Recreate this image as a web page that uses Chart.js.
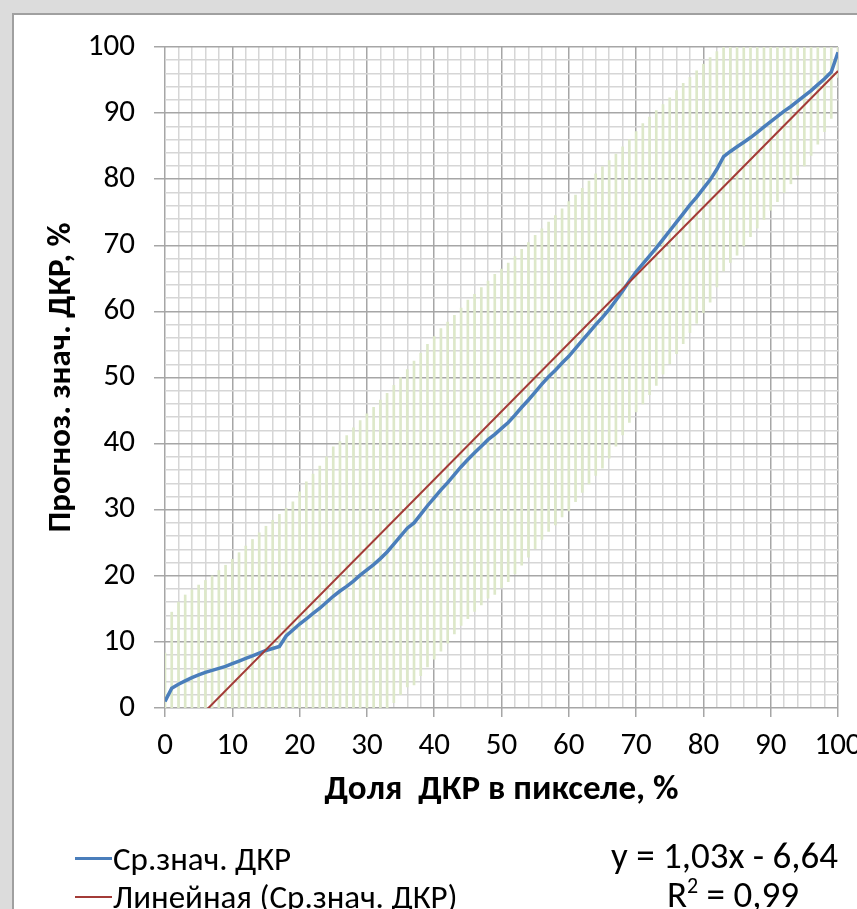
<!DOCTYPE html>
<html><head><meta charset="utf-8">
<script src="https://cdn.jsdelivr.net/npm/chart.js@4.4.1/dist/chart.umd.min.js"></script>
<style>
html,body{margin:0;padding:0;width:857px;height:909px;overflow:hidden;background:#dcdcdc;}
#frame{position:absolute;left:12px;top:13px;width:900px;height:950px;background:#fff;border-left:2px solid #a0a0a0;border-top:2px solid #a0a0a0;}
#c{position:absolute;left:0;top:0;}
.txt{position:absolute;font-family:Carlito,'Open Sans',sans-serif;font-size:33px;color:#000;white-space:nowrap;line-height:1;}
.eqt{font-size:37px;}
.ln{position:absolute;height:3px;width:37px;}
</style></head>
<body>
<div id="frame"></div>
<canvas id="c" width="857" height="909"></canvas>
<div class="ln" style="left:75px;top:857px;background:#4a7ebb"></div>
<div class="txt" id="leg1" style="left:113px;top:843px">Ср.знач. ДКР</div>
<div class="ln" style="left:75px;top:896px;background:#a33b37;height:2px"></div>
<div class="txt" id="leg2" style="left:113px;top:881px">Линейная (Ср.знач. ДКР)</div>
<div class="txt eqt" id="eq" style="right:19px;top:837px"></div>
<div class="txt eqt" id="r2" style="left:667px;top:876px"></div>
<script>
const xPct = [0,1,2,3,4,5,6,7,8,9,10,11,12,13,14,15,16,17,18,19,20,21,22,23,24,25,26,27,28,29,30,31,32,33,34,35,36,37,38,39,40,41,42,43,44,45,46,47,48,49,50,51,52,53,54,55,56,57,58,59,60,61,62,63,64,65,66,67,68,69,70,71,72,73,74,75,76,77,78,79,80,81,82,83,84,85,86,87,88,89,90,91,92,93,94,95,96,97,98,99,100];
const meanDKR = [1.0,3.0,3.6,4.1,4.6,5.0,5.4,5.7,6.0,6.3,6.7,7.1,7.5,7.9,8.3,8.7,9.0,9.3,10.9,11.8,12.7,13.5,14.3,15.1,16.0,16.9,17.7,18.4,19.2,20.1,20.9,21.7,22.6,23.6,24.8,26.0,27.2,28.0,29.3,30.6,31.8,33.0,34.1,35.3,36.5,37.6,38.6,39.6,40.6,41.4,42.3,43.2,44.3,45.5,46.6,47.8,49.0,50.1,51.1,52.2,53.2,54.4,55.6,56.8,58.0,59.1,60.3,61.7,63.1,64.6,66.0,67.2,68.4,69.6,70.9,72.2,73.5,74.8,76.1,77.3,78.6,79.9,81.5,83.4,84.2,84.9,85.6,86.3,87.1,87.9,88.7,89.5,90.3,91.0,91.8,92.6,93.4,94.3,95.2,96.2,99.2];
const errDKR = [7.3,11.5,12.4,13.0,13.3,13.6,13.9,14.3,14.8,15.3,15.8,16.4,17.0,17.6,18.2,18.8,19.4,20.0,19.3,19.4,20.0,20.7,21.1,21.5,22.0,22.6,22.6,22.8,23.2,23.4,23.6,23.8,24.0,24.0,24.0,24.0,24.0,24.5,24.4,24.4,24.4,24.4,24.3,24.1,24.0,24.1,24.0,24.0,24.0,24.2,24.1,24.1,24.0,23.9,23.8,23.7,23.5,23.4,23.4,23.3,23.4,23.2,23.0,22.9,22.8,22.8,22.5,22.1,21.8,21.4,21.2,21.2,21.0,20.8,20.4,20.1,19.9,19.7,19.3,19.1,18.8,18.5,17.8,17.3,16.8,16.4,15.7,15.0,14.5,14.0,13.4,12.9,12.3,11.7,11.2,10.6,9.8,9.0,8.0,7.0,3.8];
const trendSlope = 1.03;
const trendIntercept = -6.64;
const trendR2 = '0,99';
const seriesName = 'Ср.знач. ДКР';
const xTitle = 'Доля  ДКР в пикселе, %';
const yTitle = 'Прогноз. знач. ДКР, %';

document.getElementById('eq').textContent = 'y = ' + String(trendSlope).replace('.', ',') + 'x - ' + String(Math.abs(trendIntercept)).replace('.', ',');
document.getElementById('r2').innerHTML = 'R<sup style="font-size:22px;vertical-align:14px;line-height:0">2</sup> = ' + trendR2;

const FONT = "Carlito, 'Open Sans', sans-serif";
const MAJOR = '#a6a6a6', MINOR = '#d6d6d6';
const gridColor = c => (c.tick && Math.round(c.tick.value) % 10 === 0) ? MAJOR : MINOR;
const tickColor = c => (c.tick && Math.round(c.tick.value) % 10 === 0) ? MAJOR : 'rgba(0,0,0,0)';
const lbl = v => (Math.round(v) % 10 === 0) ? String(Math.round(v)) : '';

new Chart(document.getElementById('c'), {
  type: 'bar',
  data: {
    datasets: [
      {
        type: 'line', label: 'Линейная (' + seriesName + ')',
        data: [{x: xPct[0], y: trendSlope * xPct[0] + trendIntercept}, {x: xPct[xPct.length-1], y: trendSlope * xPct[xPct.length-1] + trendIntercept}],
        borderColor: '#a33b37', borderWidth: 2, pointRadius: 0, order: 1
      },
      {
        type: 'line', label: seriesName,
        data: xPct.map((x, i) => ({x: x, y: meanDKR[i]})),
        borderColor: '#4a7ebb', borderWidth: 3.5, pointRadius: 0, tension: 0, order: 2
      },
      {
        type: 'bar', label: 'err',
        data: xPct.map((x, i) => ({x: x, y: [meanDKR[i] - errDKR[i], meanDKR[i] + errDKR[i]]})),
        backgroundColor: '#dde8c9', barThickness: 2, grouped: false, order: 3
      }
    ]
  },
  options: {
    responsive: false, animation: false, devicePixelRatio: 1,
    layout: {padding: {left: 0, top: 47, right: 19, bottom: 0}},
    plugins: {legend: {display: false}, tooltip: {enabled: false}},
    scales: {
      x: {
        type: 'linear', min: 0, max: 100, offset: false,
        ticks: {stepSize: 2, autoSkip: false, maxRotation: 0, callback: lbl, font: {family: FONT, size: 31}, color: '#000', padding: 11},
        grid: {color: gridColor, lineWidth: 1.5, tickLength: 9, tickColor: tickColor, offset: false, tickWidth: 1.5},
        border: {display: false},
        title: {display: true, text: xTitle, font: {family: FONT, size: 35, weight: 'bold'}, color: '#000', padding: {top: 0, bottom: 98}},
        afterFit(s) { s.height = 201; s.paddingLeft = 0; s.paddingRight = 0; }
      },
      y: {
        type: 'linear', min: 0, max: 100,
        ticks: {stepSize: 2, autoSkip: false, callback: lbl, font: {family: FONT, size: 31}, color: '#000', padding: 19},
        grid: {color: gridColor, lineWidth: 1.5, tickLength: 11, tickColor: tickColor, tickWidth: 1.5},
        border: {display: false},
        title: {display: true, text: yTitle, font: {family: FONT, size: 33, weight: 'bold'}, color: '#000', padding: {top: 42, bottom: 0}},
        afterFit(s) { s.width = 165; s.paddingTop = 0; s.paddingBottom = 0; }
      }
    }
  }
});
</script>
</body></html>
